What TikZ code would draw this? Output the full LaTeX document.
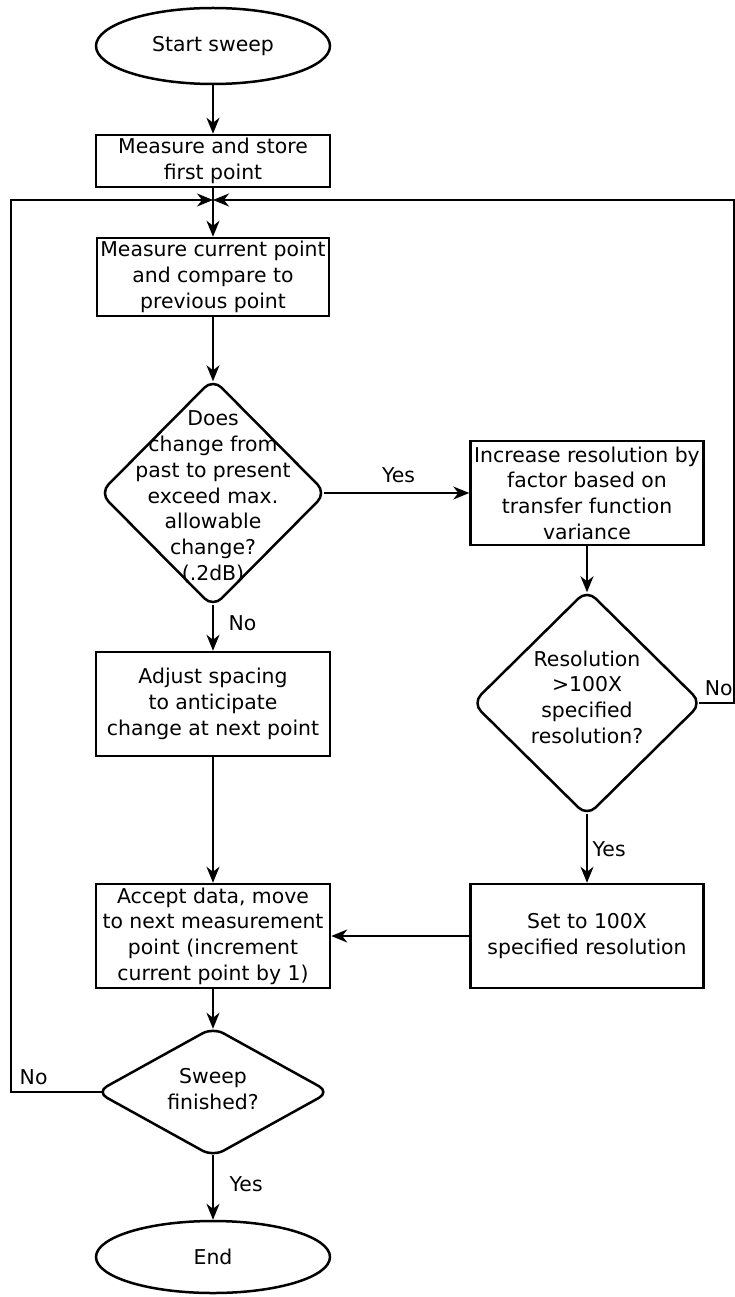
\documentclass[tikz,border=0pt]{standalone}
\usepackage{fontspec}
\setmainfont{DejaVu Sans}
\usetikzlibrary{shapes.geometric,arrows.meta}

\tikzset{
  flowbox/.style={draw,line width=2.5pt,rectangle,minimum width=234pt,align=center,inner sep=0pt},
  terminal/.style={draw,line width=2.5pt,ellipse,minimum width=234pt,inner sep=0pt},
  decision/.style={draw,line width=2.5pt,diamond,rounded corners=12pt,inner sep=0pt},
  flow/.style={line width=1.4pt,-{Stealth[length=16pt,width=13pt,inset=5pt]}},
  tag/.style={inner sep=0pt}
}

\begin{document}
\begin{tikzpicture}[x=1pt,y=-1pt,font=\fontsize{20.4}{25.7}\selectfont]
  \useasboundingbox (0,0) rectangle (735,1297);
  % main column
  \node[terminal,minimum height=76pt] (start) at (213,46) {Start sweep};
  \node[flowbox,minimum height=52pt] (first) at (213,161) {Measure and store\\first point};
  \coordinate (loop) at (213,200);
  \coordinate (ltop) at (11,200);
  \coordinate (rtop) at (734,200);
  \node[flowbox,minimum width=232pt,minimum height=78pt] (current) at (213,277) {Measure current point\\and compare to\\previous point};
  \node[decision,minimum width=227pt,minimum height=229pt] (change) at (213,493) {};
  \node[align=center] (change-txt) at ([yshift=-4pt]change) {Does\\change from\\past to present\\exceed max.\\allowable\\change?\\(.2dB)};
  \node[flowbox,minimum height=104pt] (adjust) at (213,704) {Adjust spacing\\to anticipate\\change at next point};
  \node[flowbox,minimum height=104pt] (accept) at (213,936) {Accept data, move\\to next measurement\\point (increment\\current point by 1)};
  \node[decision,minimum width=234pt,minimum height=130pt] (sweep) at (213,1092) {};
  \node[align=center] (sweep-txt) at ([yshift=3pt]sweep) {Sweep\\finished?};
  \node[terminal,minimum height=72pt] (end) at (213,1257) {End};
  % right column
  \node[flowbox,minimum width=233pt,minimum height=104pt] (increase) at (587,493) {Increase resolution by\\factor based on\\transfer function\\variance};
  \node[decision,minimum width=230pt,minimum height=227pt] (resol) at (587,703) {};
  \node[align=center] (resol-txt) at ([yshift=6pt]resol) {Resolution\\>100X\\specified\\resolution?};
  \node[flowbox,minimum width=233pt,minimum height=104pt] (setres) at (587,936) {Set to 100X\\specified resolution};

  \draw[flow] (start) -- (first);
  \draw[line width=1.4pt] (first) -- (loop);
  \draw[flow] (loop) -- (current);
  \draw[flow,shorten >=-4pt] (current) -- (change);
  \draw[flow,shorten <=-4pt] (change) -- node[tag,above=10pt] {Yes} (increase);
  \draw[flow,shorten <=-4pt] (change) -- node[tag,pos=0.35,right=15pt] {No} (adjust);
  \draw[flow] (adjust) -- (accept);
  \draw[flow,shorten >=-4pt] (increase) -- (resol);
  \draw[flow,shorten <=-4pt] (resol) -- node[tag,pos=0.49,right=5pt] {Yes} (setres);
  \draw[flow,shorten <=-4pt] (resol.east) -- node[tag,above=7pt] {No} (rtop |- resol.east) -- (rtop) -- (loop);
  \draw[flow] (setres) -- (accept);
  \draw[flow,shorten >=-3pt] (accept) -- (sweep);
  \draw[flow,shorten <=-7pt] (sweep.west) -- node[tag,pos=0.73,above=7pt] {No} (ltop |- sweep.west) -- (ltop) -- (loop);
  \draw[flow,shorten <=-3pt] (sweep) -- node[tag,pos=0.42,right=16pt] {Yes} (end);
\end{tikzpicture}
\end{document}
